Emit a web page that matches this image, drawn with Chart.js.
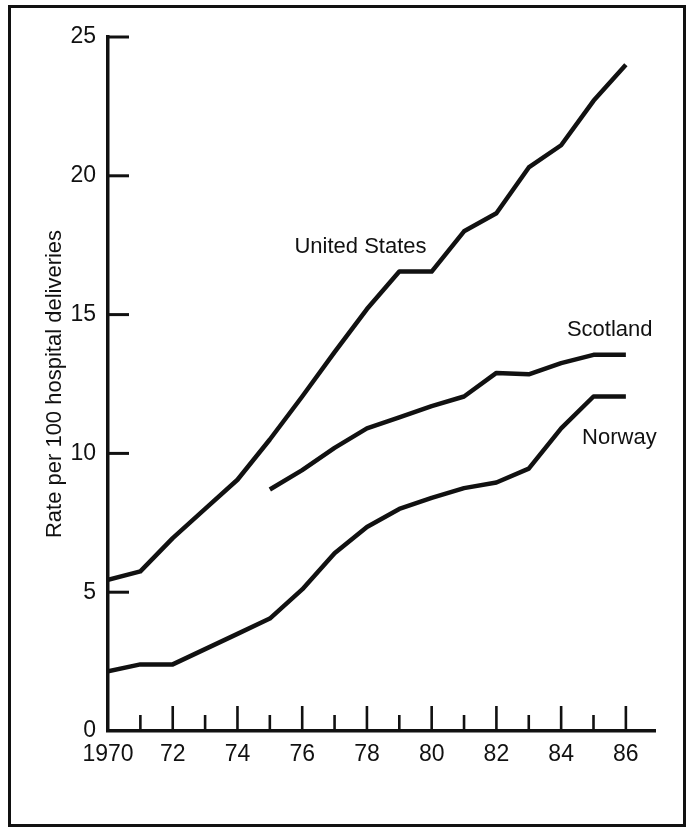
<!DOCTYPE html>
<html>
<head>
<meta charset="utf-8">
<script src="https://cdn.jsdelivr.net/npm/chart.js@4.4.1/dist/chart.umd.min.js"></script>
<style>
  html, body { margin: 0; padding: 0; background: #fff; }
  #wrap { position: relative; width: 689px; height: 828px; }
  #frame {
    position: absolute; left: 8px; top: 5px; width: 678px; height: 822px;
    box-sizing: border-box; border: 3px solid #111; pointer-events: none;
  }
  canvas { position: absolute; left: 0; top: 0; }
</style>
</head>
<body>
<div id="wrap">
  <canvas id="chart" width="689" height="828"></canvas>
  <div id="frame"></div>
</div>
<script>
// data (rate per 100 hospital deliveries)
const years = [1970, 1971, 1972, 1973, 1974, 1975, 1976, 1977, 1978, 1979, 1980, 1981, 1982, 1983, 1984, 1985, 1986];
const usRate = [5.45, 5.75, 6.95, 8.0, 9.05, 10.5, 12.05, 13.65, 15.2, 16.55, 16.55, 18.0, 18.65, 20.3, 21.1, 22.7, 24.0];
const scotlandYears = [1975, 1976, 1977, 1978, 1979, 1980, 1981, 1982, 1983, 1984, 1985, 1986];
const scotlandRate = [8.7, 9.4, 10.2, 10.9, 11.3, 11.7, 12.05, 12.9, 12.85, 13.25, 13.55, 13.55];
const norwayRate = [2.15, 2.4, 2.4, 2.95, 3.5, 4.05, 5.1, 6.4, 7.35, 8.0, 8.4, 8.75, 8.95, 9.45, 10.9, 12.05, 12.05];

const xTickYears = [1970, 1972, 1974, 1976, 1978, 1980, 1982, 1984, 1986];
const yTicks = [0, 5, 10, 15, 20, 25];

// where the series names sit, in data units
const seriesLabels = [
  { text: 'United States', x: 1977.8, y: 17.45 },
  { text: 'Scotland', x: 1985.5, y: 14.45 },
  { text: 'Norway', x: 1985.8, y: 10.55 }
];

const ink = '#111';
const font = 'Liberation Sans, Arial, Helvetica, sans-serif';

function pts(xs, ys) {
  return xs.map((x, i) => ({ x: x, y: ys[i] }));
}

function lineSet(label, data) {
  return {
    label: label,
    data: data,
    borderColor: ink,
    borderWidth: 4.5,
    pointRadius: 0,
    fill: false,
    tension: 0,
    borderJoinStyle: 'round',
    borderCapStyle: 'butt'
  };
}

// inward tick marks and series names, placed with the chart's scales
const decorations = {
  id: 'decorations',
  afterDatasetsDraw(chart) {
    const ctx = chart.ctx;
    const xs = chart.scales.x;
    const ys = chart.scales.y;
    const y0 = ys.getPixelForValue(0);
    const xLeft = xs.getPixelForValue(1970);

    ctx.save();
    ctx.strokeStyle = ink;
    ctx.lineCap = 'butt';

    // x axis: tall ticks on even years, short on odd
    ctx.lineWidth = 2.6;
    for (let yr = 1971; yr <= 1986; yr++) {
      const px = xs.getPixelForValue(yr);
      const len = yr % 2 === 0 ? 25 : 16;
      ctx.beginPath();
      ctx.moveTo(px, y0);
      ctx.lineTo(px, y0 - len);
      ctx.stroke();
    }

    // y axis: ticks pointing into the plot
    ctx.lineWidth = 3;
    yTicks.forEach(v => {
      if (v === 0) return;
      const py = ys.getPixelForValue(v);
      ctx.beginPath();
      ctx.moveTo(xLeft, py);
      ctx.lineTo(xLeft + 21, py);
      ctx.stroke();
    });

    ctx.fillStyle = ink;
    ctx.font = '22px ' + font;
    ctx.textAlign = 'center';
    ctx.textBaseline = 'middle';
    seriesLabels.forEach(l => {
      ctx.fillText(l.text, xs.getPixelForValue(l.x), ys.getPixelForValue(l.y));
    });
    ctx.restore();
  }
};

new Chart(document.getElementById('chart'), {
  type: 'line',
  data: {
    datasets: [
      lineSet('United States', pts(years, usRate)),
      lineSet('Scotland', pts(scotlandYears, scotlandRate)),
      lineSet('Norway', pts(years, norwayRate))
    ]
  },
  options: {
    responsive: false,
    devicePixelRatio: 1,
    animation: false,
    layout: { padding: { left: 10, top: 37, right: 34, bottom: 47 } },
    plugins: { legend: { display: false }, tooltip: { enabled: false } },
    scales: {
      x: {
        type: 'linear',
        min: 1970,
        max: 1986.9,
        grid: { display: false, drawTicks: false },
        border: { display: true, color: ink, width: 3.5 },
        afterBuildTicks: s => { s.ticks = xTickYears.map(v => ({ value: v })); },
        afterFit: s => { s.height = 50; },
        ticks: {
          autoSkip: false,
          maxRotation: 0,
          padding: 10,
          color: ink,
          font: { family: font, size: 23 },
          callback: v => v === 1970 ? '1970' : String(v).slice(2)
        }
      },
      y: {
        min: 0,
        max: 25,
        grid: { display: false, drawTicks: false },
        border: { display: true, color: ink, width: 3.5 },
        afterBuildTicks: s => { s.ticks = yTicks.map(v => ({ value: v })); },
        afterFit: s => { s.width = 98; },
        ticks: {
          padding: 12,
          color: ink,
          font: { family: font, size: 23 }
        },
        title: {
          display: true,
          text: 'Rate per 100 hospital deliveries',
          color: ink,
          font: { family: font, size: 22 },
          padding: { top: 32, bottom: 0 }
        }
      }
    }
  },
  plugins: [decorations]
});
</script>
</body>
</html>
